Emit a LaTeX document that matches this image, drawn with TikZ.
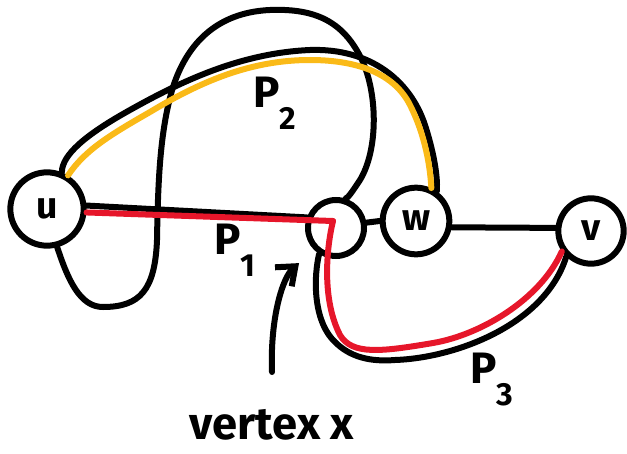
\documentclass[tikz,border=0pt]{standalone}
\usepackage{fontspec}
\setmainfont{Fira Sans}
\usepackage{tikz}
\usetikzlibrary{arrows.meta}
\definecolor{pathRed}{RGB}{230, 22, 42}
\definecolor{pathYellow}{RGB}{250, 186, 24}

\newcommand{\pname}[1]{P\raisebox{-0.5em}{\fontsize{24}{24}\selectfont #1}}

\begin{document}
\begin{tikzpicture}[x=0.75pt, y=-0.75pt,
  vtx/.style={circle, draw, line width=4.5pt, inner sep=0pt,
              font=\fontsize{28}{28}\selectfont\bfseries},
  edge/.style={line width=4.5pt, line cap=round, line join=round},
  redpath/.style={edge, draw=pathRed},
  yellowpath/.style={edge, draw=pathYellow},
  pathlabel/.style={font=\fontsize{33}{33}\selectfont\bfseries},
  pointer/.style={edge, -{Straight Barb[length=12pt, width=19pt]}},
]
  \useasboundingbox (0,0) rectangle (627,453);

  % vertices
  \node[vtx, minimum size=55pt] (u) at (47,209) {u};
  \node[vtx, minimum size=42pt] (x) at (336,228) {};
  \node[vtx, minimum size=50pt] (w) at (416,221) {w};
  \node[vtx, minimum size=49pt] (v) at (591,231) {v};

  % black edges
  \draw[edge] (u.5) -- (x.160);
  \draw[edge] (x.10) -- (w.180);
  \draw[edge] (w.350) -- (v.175);
  \draw[edge] (u.285) .. controls (68,280) and (80,307) .. (103,307)
    .. controls (140,307) and (155,290) .. (157,240)
    .. controls (158,180) and (160,130) .. (173,87)
    .. controls (190,35) and (225,12) .. (270,10)
    .. controls (320,8) and (345,25) .. (362,60)
    .. controls (378,95) and (378,150) .. (360,180)
    .. controls (352,192) and (348,198) .. (x.72);
  \draw[edge] (u.68) .. controls (62,155) and (85,135) .. (130,110)
    .. controls (180,82) and (240,53) .. (310,50)
    .. controls (370,48) and (410,80) .. (425,125)
    .. controls (433,150) and (438,175) .. (w.55);
  \draw[edge] (x.237) .. controls (314,275) and (312,320) .. (335,342)
    .. controls (350,357) and (370,362) .. (395,360)
    .. controls (455,358) and (545,325) .. (v.226);

  % paths
  \coordinate (xm) at (333,221);
  \draw[redpath] (u.355) -- (xm);
  \draw[redpath] (xm) .. controls (326,250) and (322,300) .. (340,335)
    .. controls (352,355) and (380,352) .. (433,343)
    .. controls (480,335) and (540,300) .. (v.215);
  \draw[yellowpath] (u.58) .. controls (85,150) and (110,135) .. (150,112)
    .. controls (200,82) and (250,60) .. (310,60)
    .. controls (360,60) and (395,75) .. (410,105)
    .. controls (425,135) and (430,165) .. (w.65);

  % labels
  \node[pathlabel] (p2lbl) at (275,103) {\pname{2}};
  \node[pathlabel] (p1lbl) at (235,250) {\pname{1}};
  \node[pathlabel] (p3lbl) at (492,380) {\pname{3}};
  \node[pathlabel, font=\fontsize{34}{34}\selectfont\bfseries] (xlbl) at (272,425) {vertex x};

  \coordinate (atail) at (272,372);
  \draw[pointer, shorten >=15] (atail) .. controls (270,320) and (282,278) .. (x.225);
\end{tikzpicture}
\end{document}
